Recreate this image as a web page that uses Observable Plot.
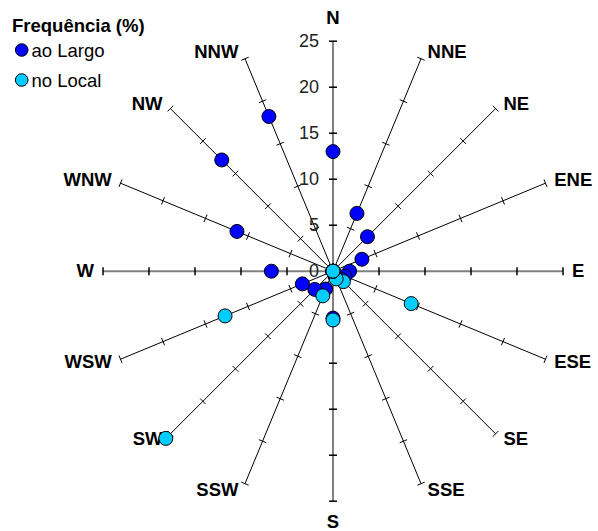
<!DOCTYPE html>
<html>
<head>
<meta charset="utf-8">
<script src="https://cdn.jsdelivr.net/npm/d3@7"></script>
<script src="https://cdn.jsdelivr.net/npm/@observablehq/plot@0.6"></script>
<style>
  html, body { margin: 0; padding: 0; background: #fff; }
  #chart { position: relative; width: 598px; height: 531px; }
  svg { font-family: "Liberation Sans", Arial, sans-serif; }
</style>
</head>
<body>
<div id="chart"></div>
<script>
// ---- data ----
const directions = ["N","NNE","NE","ENE","E","ESE","SE","SSE","S","SSW","SW","WSW","W","WNW","NW","NNW"];
const aoLargo = [13.0, 6.8, 5.3, 3.4, 1.8, 1.4, 1.2, 0.6, 5.1, 2.1, 2.8, 3.6, 6.7, 11.3, 17.1, 18.2];
const noLocal = [0, 0, 0, 0, 0, 9.2, 1.6, 0.9, 5.3, 2.9, 25.7, 12.7, 0, 0, 0, 0];
const tickValues = [0, 5, 10, 15, 20, 25];
const tickLabels = ["0", "5", "10", "15", "20", "25"];
const seriesNames = ["ao Largo", "no Local"];
const seriesColors = ["#0000ff", "#00ccff"];
const legendTitle = "Frequência (%)";

// ---- geometry ----
const W = 598, H = 531, cx = 332.5, cy = 270.7, k = 9.2; // px per unit
const rMax = tickValues[tickValues.length - 1];
const spokes = directions.map((d, i) => {
  const a = i * Math.PI / 8;
  return { d, i, s: Math.sin(a), c: Math.cos(a), cardinal: i % 4 === 0 };
});
const px = v => v / k;

const ticks = [];
spokes.forEach(sp => {
  tickValues.filter(v => v > 0).forEach(v => {
    const h = px(4);
    const bx = v * sp.s, by = v * sp.c;
    ticks.push({ x1: bx - h * sp.c, y1: by + h * sp.s, x2: bx + h * sp.c, y2: by - h * sp.s, cardinal: sp.cardinal });
  });
});

const labels = spokes.map(sp => {
  const isVert = Math.abs(sp.s) < 0.1;
  const ex = rMax * sp.s, ey = rMax * sp.c;
  let dx = 0, dy;
  if (isVert) {
    dy = sp.c > 0 ? 23 : -21;
  } else {
    dx = Math.sign(sp.s) * (5 + 4 * Math.abs(sp.s));
    dy = 7 * sp.c;
  }
  return { d: sp.d, x: ex + px(dx), y: ey + px(dy), anchor: isVert ? "middle" : (sp.s > 0 ? "start" : "end") };
});

const pts = (vals, si) => vals.map((v, i) => ({ series: seriesNames[si], x: v * spokes[i].s, y: v * spokes[i].c }));
const ptsA = pts(aoLargo, 0), ptsB = pts(noLocal, 1);

const font = "'Liberation Sans', Arial, sans-serif";

const plot = Plot.plot({
  width: W, height: H, margin: 0,
  x: { domain: [-cx / k, (W - cx) / k], range: [0, W], axis: null },
  y: { domain: [-(H - cy) / k, cy / k], range: [H, 0], axis: null },
  style: { fontFamily: font, background: "#fff", overflow: "visible" },
  marks: [
    Plot.link(spokes.filter(s => !s.cardinal), { x1: 0, y1: 0, x2: d => rMax * d.s, y2: d => rMax * d.c, stroke: "#000", strokeWidth: 1 }),
    Plot.link(spokes.filter(s => s.cardinal), { x1: 0, y1: 0, x2: d => rMax * d.s, y2: d => rMax * d.c, stroke: "#808080", strokeWidth: 2 }),
    Plot.link(ticks.filter(t => !t.cardinal), { x1: "x1", y1: "y1", x2: "x2", y2: "y2", stroke: "#000", strokeWidth: 1 }),
    Plot.link(ticks.filter(t => t.cardinal), { x1: "x1", y1: "y1", x2: "x2", y2: "y2", stroke: "#000", strokeWidth: 1.5 }),
    Plot.text(tickValues, { x: 0, y: d => d, text: (d, i) => tickLabels[i], textAnchor: "end", dx: -14, fontSize: 18, fill: "#222" }),
    Plot.text(labels.filter(l => l.anchor === "start"), { x: "x", y: "y", text: "d", textAnchor: "start", fontSize: 18.5, fontWeight: "bold", fill: "#000" }),
    Plot.text(labels.filter(l => l.anchor === "end"), { x: "x", y: "y", text: "d", textAnchor: "end", fontSize: 18.5, fontWeight: "bold", fill: "#000" }),
    Plot.text(labels.filter(l => l.anchor === "middle"), { x: "x", y: "y", text: "d", textAnchor: "middle", fontSize: 18.5, fontWeight: "bold", fill: "#000" }),
    Plot.dot(ptsA, { x: "x", y: "y", r: 7, fill: seriesColors[0], stroke: "#000", strokeWidth: 1 }),
    Plot.dot(ptsB, { x: "x", y: "y", r: 7, fill: seriesColors[1], stroke: "#000", strokeWidth: 1 })
  ]
});
document.getElementById("chart").appendChild(plot);

// legend
const svg = d3.select(plot);
const lg = svg.append("g").attr("font-family", font).attr("text-anchor", "start");
lg.append("text").attr("x", 12).attr("y", 31.5).attr("font-size", 18.5).attr("font-weight", "bold").attr("fill", "#000").attr("text-anchor", "start").text(legendTitle);
seriesNames.forEach((name, i) => {
  const yy = 50 + i * 30;
  lg.append("circle").attr("cx", 21.7).attr("cy", yy).attr("r", 6.3).attr("fill", seriesColors[i]).attr("stroke", "#000").attr("stroke-width", 1);
  lg.append("text").attr("x", 31.5).attr("y", yy + 6.5).attr("font-size", 18.5).attr("fill", "#000").attr("text-anchor", "start").text(name);
});
</script>
</body>
</html>
